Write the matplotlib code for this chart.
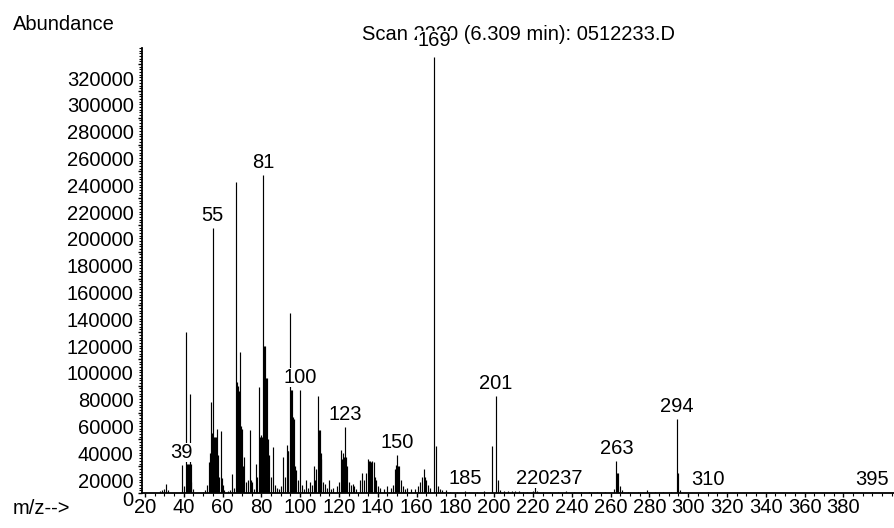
import matplotlib
matplotlib.use("Agg")
import matplotlib.pyplot as plt
from matplotlib.transforms import ScaledTranslation
import numpy as np

# ---- data (m/z, abundance) ----
mz = [28, 29, 30, 31, 32,
      39, 40, 41, 41.5, 42, 42.5, 43, 43.5, 44, 45,
      50, 51, 52, 53, 53.5, 54, 54.5, 55, 55.5, 56, 56.5, 57, 57.5, 58, 59, 59.5, 60, 61,
      63, 64, 65, 66, 67, 67.5, 68, 68.5, 69, 69.5, 70, 70.5, 71, 72, 73, 74, 74.5, 75, 76,
      77, 78, 79, 79.5, 80, 80.5, 81, 81.5, 82, 82.5, 83, 83.5, 84, 85, 86, 87, 88, 89, 90,
      91, 92, 93, 93.5, 94, 95, 95.5, 96, 96.5, 97, 97.5, 98, 99, 100, 101, 102, 103, 104,
      105, 106, 107, 107.5, 108, 109, 109.5, 110, 110.5, 111, 112, 113, 114, 115, 116, 117,
      119, 120, 121, 121.5, 122, 122.5, 123, 123.5, 124, 125, 126, 127, 128, 129,
      131, 132, 133, 134, 135, 135.5, 136, 136.5, 137, 138, 138.5, 139, 140, 141, 143,
      145, 147, 148, 149, 149.5, 150, 150.5, 151, 152, 153, 154, 155, 157, 159,
      161, 162, 163, 164, 164.5, 165, 166, 167, 169, 170, 171, 172, 173, 175, 177, 181,
      185, 187, 191, 195, 199, 201, 202, 203, 205, 207, 209, 211, 213, 215, 217,
      220, 221, 222, 225, 229, 233, 237, 241, 245, 249, 253, 257,
      262, 263, 263.5, 264, 265, 266, 269, 274, 279, 283, 287, 291,
      294, 295, 296, 310, 395]
abundance = [1500, 2500, 3000, 6500, 2000,
             21000, 5000, 120000, 22000, 22000, 22000, 74000, 22000, 8000, 3000,
             1000, 2000, 6000, 23000, 30000, 68000, 45000, 198000, 42000, 42000, 42000, 48000, 28000, 12000, 46000, 11000, 6000, 2000,
             1500, 2000, 14000, 4000, 232000, 83000, 80000, 76000, 105000, 50000, 48000, 20000, 27000, 8000, 10000, 47000, 10000, 8000, 3000,
             22000, 12000, 79000, 42000, 43000, 42000, 237000, 110000, 110000, 86000, 86000, 40000, 28000, 12000, 34000, 6000, 4000, 3000, 5000,
             27000, 12000, 36000, 31000, 31000, 134000, 77000, 77000, 57000, 55000, 20000, 17000, 10000, 77000, 6000, 3000, 10000, 4000,
             8000, 6000, 20000, 10000, 18000, 72000, 47000, 47000, 30000, 25000, 8000, 7000, 4000, 10000, 3000, 4000,
             5000, 8000, 32000, 25000, 30000, 27000, 49000, 27000, 20000, 8000, 6000, 7000, 5000, 3000,
             10000, 15000, 10000, 15000, 25000, 24000, 24000, 23000, 24000, 23000, 12000, 10000, 5000, 4000, 3000,
             5000, 4000, 6000, 18000, 21000, 28000, 20000, 20000, 10000, 5000, 3000, 4000, 3000, 3000,
             5000, 8000, 12000, 18000, 12000, 10000, 6000, 4000, 325000, 35000, 5000, 3000, 2000, 2000, 1000, 1000,
             1500, 1000, 1000, 1500, 35000, 72000, 10000, 2000, 1500, 1500, 1500, 1500, 1500, 1000, 1000,
             1500, 7000, 1500, 1000, 1000, 1000, 1500, 1000, 1000, 1000, 1000, 1000,
             3000, 24000, 15000, 15000, 5000, 2000, 1000, 1000, 2000, 1000, 1000, 1000,
             55000, 15000, 2000, 1000, 1000]

label_mz = [39, 55, 81, 100, 123, 150, 169, 185, 201, 220, 237, 263, 294, 310, 395]

y_ticks = list(range(0, 320001, 20000))
x_ticks = list(range(20, 381, 20))

# ---- figure ----
plt.rcParams['font.family'] = ['Liberation Sans', 'DejaVu Sans']
FS = 14.5
W, H = 895, 528
fig = plt.figure(figsize=(W / 100, H / 100), dpi=100)
ax_l, ax_r, ax_t, ax_b = 142, 895, 48, 493
ax = fig.add_axes([ax_l / W, (H - ax_b) / H, (ax_r - ax_l) / W, (ax_b - ax_t) / H])

ax.vlines(mz, 0, abundance, colors='black', linewidth=0.85, zorder=2)

ax.set_xlim(18.5, 406.6)
ax.set_ylim(0, 332000)

for s in ['top', 'right']:
    ax.spines[s].set_visible(False)
for s in ['left', 'bottom']:
    ax.spines[s].set_linewidth(1.3)
    ax.spines[s].set_color('black')

ax.set_xticks(x_ticks)
ax.set_xticks(np.arange(20, 407, 5), minor=True)
ax.set_yticks(y_ticks)
ax.set_yticks(np.arange(0, 332001, 2000), minor=True)
ax.set_xticklabels([str(t) for t in x_ticks], fontsize=FS)
ax.set_yticklabels([str(t) for t in y_ticks], fontsize=FS)
ax.tick_params(axis='x', which='major', length=3, width=1, pad=0.5, direction='out')
ax.tick_params(axis='x', which='minor', length=2, width=0.8, direction='out')
ax.tick_params(axis='y', which='major', length=3, width=1, pad=3, direction='out')
ax.tick_params(axis='y', which='minor', length=2, width=0.8, direction='out')

# y tick labels sit slightly below their ticks in the reference
for lab, t in zip(ax.get_yticklabels(), y_ticks):
    dy = -5 if t == 0 else -14
    lab.set_transform(lab.get_transform() + ScaledTranslation(0, dy / 100, fig.dpi_scale_trans))

# peak labels
ab_lookup = dict(zip(mz, abundance))
for m in label_mz:
    off = 11 if m == 169 else 7
    ax.annotate(str(m), xy=(m, ab_lookup[m]), xytext=(0, off), textcoords='offset pixels',
                ha='center', va='baseline', fontsize=FS, zorder=4 if m == 169 else 3,
                annotation_clip=False,
                bbox=dict(facecolor='white', edgecolor='none', pad=0.0))

# title (partly hidden behind the 169 label)
ax.text(519 / W, 1 - 34 / H, 'Scan 2230 (6.309 min): 0512233.D', transform=fig.transFigure,
        ha='center', va='center', fontsize=FS, zorder=2.5, clip_on=False)

fig.text(13 / W, 1 - 25 / H, 'Abundance', ha='left', va='center', fontsize=FS)
fig.text(13 / W, 1 - 509 / H, 'm/z-->', ha='left', va='center', fontsize=FS)

fig.savefig('out.png', dpi=100)
